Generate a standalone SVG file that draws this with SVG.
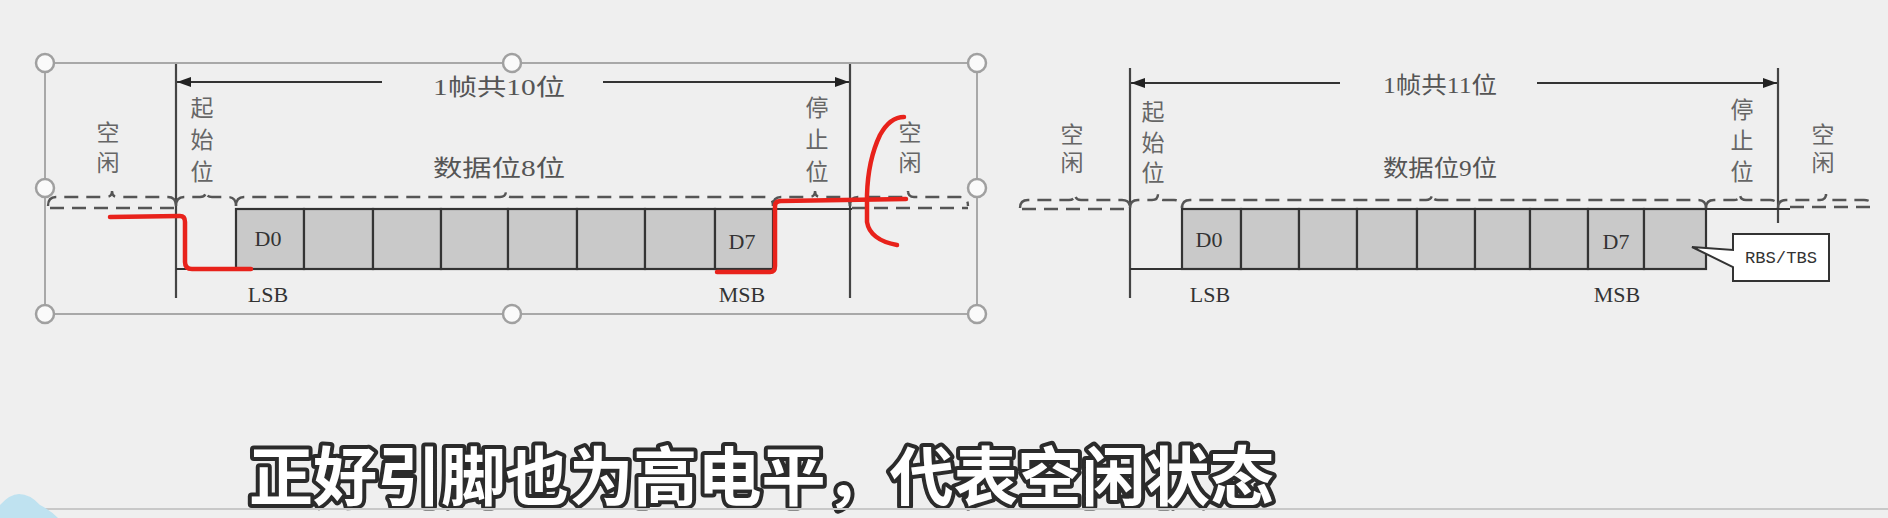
<svg xmlns="http://www.w3.org/2000/svg" width="1888" height="518" viewBox="0 0 1888 518">
<defs>
<marker id="ah" viewBox="0 0 14 10" refX="14" refY="5" markerWidth="14" markerHeight="10" markerUnits="userSpaceOnUse" orient="auto-start-reverse">
<path d="M0,0 L14,5 L0,10 Z" fill="#222"/>
</marker>
<style>
.bg{fill:#efefef}
.sel{fill:none;stroke:#a8a8a8;stroke-width:2}
.hdl{fill:#fafafa;stroke:#a0a0a0;stroke-width:2.5}
.vl{stroke:#444;stroke-width:2.2;fill:none}
.arr{stroke:#333;stroke-width:2.2;fill:none}
.dash{stroke:#555;stroke-width:2.4;fill:none;stroke-dasharray:14 8}
.box{fill:#c9c9c9;stroke:#333;stroke-width:2.2}
.sig{stroke:#333;stroke-width:2.2;fill:none}
.cj{font-family:"Noto Sans CJK SC","Noto Sans CJK JP",sans-serif;font-size:23px;fill:#666;writing-mode:vertical-rl;text-orientation:upright}
.lab{font-family:"Liberation Serif","Noto Sans CJK SC",serif;font-size:23px;fill:#555}
.bit{font-family:"Liberation Serif",serif;font-size:22px;fill:#333;text-anchor:middle}
.red{stroke:#e8221b;stroke-width:4.5;fill:none;stroke-linecap:round;stroke-linejoin:round}
.sub{font-family:"Noto Sans CJK SC",sans-serif;font-size:64px;font-weight:700;fill:#fff;stroke:#2b2b2b;stroke-width:8;paint-order:stroke;stroke-linejoin:round}
</style>
</defs>
<rect class="bg" x="0" y="0" width="1888" height="518"/>

<!-- Left diagram -->
<g id="left-diagram">
<g id="selection-box">
<rect class="sel" x="45" y="63" width="932" height="251"/>
<circle class="hdl" cx="45" cy="63" r="9"/>
<circle class="hdl" cx="512" cy="63" r="9"/>
<circle class="hdl" cx="977" cy="63" r="9"/>
<circle class="hdl" cx="45" cy="188" r="9"/>
<circle class="hdl" cx="977" cy="188" r="9"/>
<circle class="hdl" cx="45" cy="314" r="9"/>
<circle class="hdl" cx="512" cy="314" r="9"/>
<circle class="hdl" cx="977" cy="314" r="9"/>
</g>
<g id="L-frame-label">
<text class="lab" x="433" y="95" textLength="132" lengthAdjust="spacingAndGlyphs">1帧共10位</text>
</g>
<g id="L-idle1"><text class="cj" x="108" y="121" letter-spacing="7">空闲</text></g>
<g id="L-start"><text class="cj" x="202" y="96" letter-spacing="9">起始位</text></g>
<g id="L-data-label"><text class="lab" x="433" y="176" textLength="132" lengthAdjust="spacingAndGlyphs">数据位8位</text></g>
<g id="L-stop"><text class="cj" x="817" y="96" letter-spacing="9">停止位</text></g>
<g id="L-idle2"><text class="cj" x="910" y="121" letter-spacing="7">空闲</text></g>
<g id="L-bits">
<rect class="box" x="236" y="209" width="68" height="60"/>
<rect class="box" x="304" y="209" width="69" height="60"/>
<rect class="box" x="373" y="209" width="68" height="60"/>
<rect class="box" x="441" y="209" width="67" height="60"/>
<rect class="box" x="508" y="209" width="69" height="60"/>
<rect class="box" x="577" y="209" width="68" height="60"/>
<rect class="box" x="645" y="209" width="70" height="60"/>
<rect class="box" x="715" y="209" width="58" height="60"/>
<text class="bit" x="268" y="246">D0</text>
<text class="bit" x="742" y="249">D7</text>
<text class="bit" x="268" y="302">LSB</text>
<text class="bit" x="742" y="302">MSB</text>
</g>
</g>

<!-- Right diagram -->
<g id="right-diagram">
<g id="R-frame-label"><text class="lab" x="1383" y="93" textLength="114" lengthAdjust="spacingAndGlyphs">1帧共11位</text></g>
<g id="R-idle1"><text class="cj" x="1072" y="123" letter-spacing="5">空闲</text></g>
<g id="R-start"><text class="cj" x="1153" y="100" letter-spacing="7.5">起始位</text></g>
<g id="R-data-label"><text class="lab" x="1383" y="176" textLength="114" lengthAdjust="spacingAndGlyphs">数据位9位</text></g>
<g id="R-stop"><text class="cj" x="1742" y="98" letter-spacing="8">停止位</text></g>
<g id="R-idle2"><text class="cj" x="1823" y="123" letter-spacing="5">空闲</text></g>
<g id="R-bits">
<rect class="box" x="1182" y="209" width="59" height="60"/>
<rect class="box" x="1241" y="209" width="58" height="60"/>
<rect class="box" x="1299" y="209" width="58" height="60"/>
<rect class="box" x="1357" y="209" width="60" height="60"/>
<rect class="box" x="1417" y="209" width="58" height="60"/>
<rect class="box" x="1475" y="209" width="55" height="60"/>
<rect class="box" x="1530" y="209" width="58" height="60"/>
<rect class="box" x="1588" y="209" width="56" height="60"/>
<rect class="box" x="1644" y="209" width="62" height="60"/>
<text class="bit" x="1209" y="247">D0</text>
<text class="bit" x="1616" y="249">D7</text>
<text class="bit" x="1210" y="302">LSB</text>
<text class="bit" x="1617" y="302">MSB</text>
</g>
<g id="R-callout">
<path d="M1733,234 H1829 V281 H1733 V267 L1692,247 L1733,250 Z" fill="#fff" stroke="#333" stroke-width="2"/>
<text x="1781" y="263" font-family="Liberation Mono, monospace" font-size="16" fill="#333" text-anchor="middle" textLength="72" lengthAdjust="spacingAndGlyphs">RBS/TBS</text>
</g>
</g>

<g id="connectors">
<line class="vl" x1="176" y1="64" x2="176" y2="298"/>
<line class="vl" x1="850" y1="64" x2="850" y2="298"/>
<line class="arr" x1="382" y1="82" x2="177" y2="82" marker-end="url(#ah)"/>
<line class="arr" x1="603" y1="82" x2="849" y2="82" marker-end="url(#ah)"/>
<line class="sig" x1="176" y1="269" x2="236" y2="269"/>
<line class="sig" x1="773" y1="209" x2="852" y2="209"/>
<path class="dash" d="M48,206 Q48,197 56,197 L106,197 Q112,197 112,191 Q112,197 118,197 L168,197 Q176,197 176,206"/>
<path class="dash" d="M176,206 Q176,197 184,197 L200,197 Q206,197 206,191 Q206,197 212,197 L228,197 Q236,197 236,206"/>
<path class="dash" d="M236,206 Q236,197 244,197 L500,197 Q506,197 506,191 Q506,197 512,197 L765,197 Q773,197 773,206"/>
<path class="dash" d="M773,206 Q773,197 781,197 L809,197 Q815,197 815,191 Q815,197 821,197 L842,197 Q850,197 850,206"/>
<path class="dash" d="M850,206 Q850,197 858,197 L902,197 Q908,197 908,191 Q908,197 914,197 L960,197 Q968,197 968,206"/>
<line class="dash" x1="50" y1="208" x2="176" y2="208"/>
<line class="dash" x1="852" y1="208" x2="968" y2="208"/>
<line class="vl" x1="1130" y1="68" x2="1130" y2="298"/>
<line class="vl" x1="1778" y1="68" x2="1778" y2="223"/>
<line class="arr" x1="1340" y1="83" x2="1131" y2="83" marker-end="url(#ah)"/>
<line class="arr" x1="1537" y1="83" x2="1777" y2="83" marker-end="url(#ah)"/>
<line class="sig" x1="1130" y1="269" x2="1182" y2="269"/>
<line class="sig" x1="1706" y1="209" x2="1790" y2="209"/>
<path class="dash" d="M1020,208 Q1020,200 1028,200 L1069,200 Q1075,200 1075,194 Q1075,200 1081,200 L1122,200 Q1130,200 1130,208"/>
<path class="dash" d="M1130,208 Q1130,200 1138,200 L1152,200 Q1158,200 1158,194 Q1158,200 1164,200 L1174,200 Q1182,200 1182,208"/>
<path class="dash" d="M1182,208 Q1182,200 1190,200 L1426,200 Q1432,200 1432,194 Q1432,200 1438,200 L1698,200 Q1706,200 1706,208"/>
<path class="dash" d="M1706,208 Q1706,200 1714,200 L1734,200 Q1740,200 1740,194 Q1740,200 1746,200 L1770,200 Q1778,200 1778,208"/>
<path class="dash" d="M1778,208 Q1778,200 1786,200 L1820,200 Q1826,200 1826,194 Q1826,200 1832,200 L1864,200 Q1872,200 1872,206"/>
<line class="dash" x1="1022" y1="209" x2="1130" y2="209"/>
<line class="dash" x1="1790" y1="207" x2="1872" y2="207"/>
</g>

<g id="annotations">
<path class="red" d="M110,217 L180,216 Q185,216 185,222 L185,262 Q185,269 192,269 L251,269"/>
<path class="red" d="M717,272 L770,272 Q775,272 775,266 L775,206 Q775,201 781,201 L906,199"/>
<path class="red" d="M904,117 Q890,117 880,135 Q868,160 867,195 L867,222 Q870,240 897,245"/>
</g>

<g id="subtitle">
<text class="sub" x="249" y="500" textLength="1025" lengthAdjust="spacingAndGlyphs">正好引脚也为高电平，代表空闲状态</text>
</g>
<line x1="0" y1="509" x2="1888" y2="509" stroke="#c8c8c8" stroke-width="2"/>
<path d="M0,518 L0,505 Q10,494 19,494 Q30,494 40,505 Q50,510 58,518 Z" fill="#bfe2f0"/>
</svg>
